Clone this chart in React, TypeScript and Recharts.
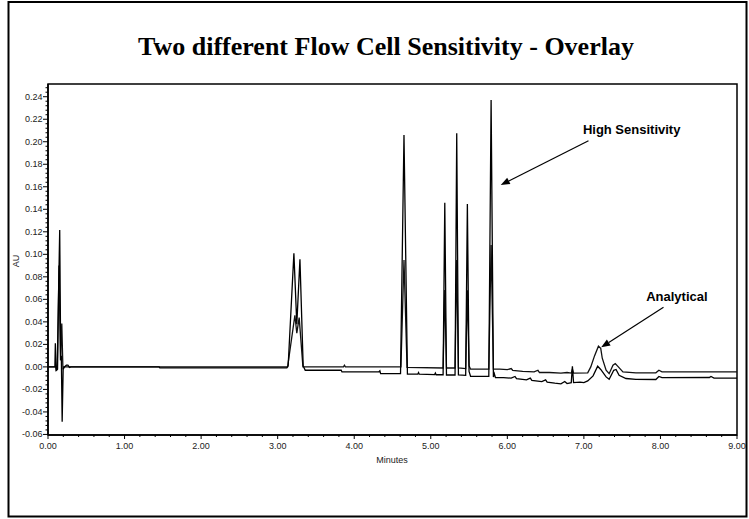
import React from 'react';
import { LineChart, Line, XAxis, YAxis, ReferenceArea, ReferenceLine } from 'recharts';

// [minutes, AU] pairs
const highSensitivity: [number, number][] = [
  [0, 0], [0.09, 0], [0.096, 0.021], [0.105, -0.003], [0.12, -0.002],
  [0.153, 0.1216], [0.166, 0.006], [0.174, 0.01], [0.185, -0.0487], [0.198, -0.002],
  [0.215, 0], [0.24, 0.0015], [0.26, 0.0015], [0.28, -0.0005], [0.3, 0],
  [1.45, 0], [1.46, -0.0008], [3.12, -0.0008], [3.137, 0.001],
  [3.212, 0.1009], [3.25, 0.038], [3.291, 0.0956], [3.333, 0.001],
  [3.36, -0.003], [3.83, -0.003], [3.84, -0.0045], [4.32, -0.0045],
  [4.335, -0.0035], [4.345, -0.006], [4.605, -0.006],
  [4.65, 0.206], [4.695, -0.0065], [4.83, -0.0065], [4.84, -0.005], [4.85, -0.0065],
  [5.05, -0.0068], [5.06, -0.0055], [5.07, -0.007], [5.161, -0.007],
  [5.183, 0.1459], [5.205, -0.0072], [5.317, -0.0072],
  [5.339, 0.2075], [5.361, -0.0072], [5.456, -0.0075],
  [5.478, 0.1447], [5.5, -0.004], [5.52, -0.0085], [5.758, -0.0085],
  [5.788, 0.2371], [5.818, -0.009], [5.83, -0.006], [5.845, -0.0095],
  [5.95, -0.0095], [6.05, -0.01], [6.1, -0.0085], [6.12, -0.0105],
  [6.25, -0.0115], [6.3, -0.01], [6.32, -0.012], [6.45, -0.013],
  [6.5, -0.0115], [6.52, -0.0135], [6.62, -0.0145], [6.7, -0.015],
  [6.75, -0.013], [6.78, -0.0148], [6.835, -0.014], [6.85, 0.0006],
  [6.865, -0.014], [6.95, -0.0135], [7.0, -0.014], [7.05, -0.0125],
  [7.12, -0.008], [7.18, 0.0006], [7.22, -0.0023], [7.29, -0.0089],
  [7.33, -0.011], [7.39, -0.003], [7.42, -0.0023], [7.46, -0.0074],
  [7.55, -0.0103], [7.68, -0.011], [7.94, -0.0112], [7.98, -0.0085],
  [8.02, -0.0095], [8.64, -0.0094], [8.66, -0.0085], [8.7, -0.01], [9.0, -0.01],
];

const analytical: [number, number][] = [
  [0, 0], [0.1, 0], [0.112, -0.003], [0.125, -0.002], [0.143, 0.09],
  [0.163, 0.006], [0.18, 0.0385], [0.195, -0.002], [0.21, 0],
  [3.13, 0], [3.225, 0.0459], [3.25, 0.03], [3.281, 0.0438], [3.33, 0],
  [3.86, 0], [3.872, 0.0015], [3.885, 0], [4.61, 0],
  [4.65, 0.095], [4.69, -0.0005], [5.161, -0.001],
  [5.183, 0.0683], [5.205, -0.001], [5.317, -0.001],
  [5.339, 0.095], [5.361, -0.001], [5.456, -0.0015],
  [5.478, 0.068], [5.5, 0.001], [5.52, -0.002], [5.758, -0.002],
  [5.788, 0.1083], [5.818, -0.002], [5.9, -0.002], [6.0, -0.0025],
  [6.05, -0.0015], [6.07, -0.003], [6.2, -0.004], [6.35, -0.0045],
  [6.4, -0.003], [6.42, -0.005], [6.55, -0.005], [6.7, -0.0055],
  [6.78, -0.005], [6.835, -0.0055], [6.85, -0.002], [6.865, -0.0055],
  [7.05, -0.0053], [7.09, 0], [7.14, 0.01], [7.19, 0.0184], [7.22, 0.0165],
  [7.24, 0.0077], [7.29, -0.003], [7.33, -0.006], [7.38, 0.0015],
  [7.41, 0.003], [7.45, 0], [7.51, -0.0044], [7.68, -0.0053],
  [7.94, -0.0053], [7.98, -0.003], [8.02, -0.0044], [9.0, -0.0044],
];

const xMajorTicks = [0, 1, 2, 3, 4, 5, 6, 7, 8, 9];
const yMajorTicks = [-0.06, -0.04, -0.02, 0, 0.02, 0.04, 0.06, 0.08, 0.1, 0.12, 0.14, 0.16, 0.18, 0.2, 0.22, 0.24];
const xDomain: [number, number] = [0, 9];
const yDomain: [number, number] = [-0.0605, 0.2513];

// arrow start, arrow tip
const hsArrow = [{ x: 7.06, y: 0.2009 }, { x: 5.914, y: 0.1616 }];
const anArrow = [{ x: 8.04, y: 0.0529 }, { x: 7.226, y: 0.0174 }];

const toPoints = (pairs: [number, number][]) => pairs.map(([t, au]) => ({ t, au }));

// 5 subdivisions between labelled ticks
const withMinor = (majors: number[], max: number) => {
  const step = majors[1] - majors[0];
  const out: number[] = [];
  majors.forEach((m) => {
    for (let k = 0; k < 5; k++) {
      const v = Number((m + (k * step) / 5).toFixed(4));
      if (v <= max) out.push(v);
    }
  });
  return out;
};

const isMajor = (v: number, majors: number[]) => majors.some((m) => Math.abs(m - v) < 1e-6);

const FONT = 'Liberation Sans, Arial, sans-serif';

const XTick = (props: any) => {
  const { x, y, payload } = props;
  const major = isMajor(payload.value, xMajorTicks);
  return (
    <g>
      <line x1={x} x2={x} y1={y} y2={y + (major ? 4 : 2)} stroke="#000" strokeWidth={1} />
      {major && (
        <text x={x} y={y + 14} textAnchor="middle" fontSize={9} fill="#222" fontFamily={FONT}>
          {payload.value.toFixed(2)}
        </text>
      )}
    </g>
  );
};

const YTick = (props: any) => {
  const { x, y, payload } = props;
  const major = isMajor(payload.value, yMajorTicks);
  return (
    <g>
      <line x1={x - (major ? 5 : 2.5)} x2={x} y1={y} y2={y} stroke="#000" strokeWidth={1} />
      {major && (
        <text x={x - 5.5} y={y + 3} textAnchor="end" fontSize={9} fill="#222" fontFamily={FONT}>
          {payload.value.toFixed(2)}
        </text>
      )}
    </g>
  );
};

const arrowShape = (label: string, dx: number, dy: number) => (props: any) => {
  const { x1, y1, x2, y2 } = props;
  const ang = Math.atan2(y2 - y1, x2 - x1);
  const len = 9;
  const half = 3.5;
  const bx = x2 - len * Math.cos(ang);
  const by = y2 - len * Math.sin(ang);
  const px = -Math.sin(ang) * half;
  const py = Math.cos(ang) * half;
  return (
    <g>
      <line x1={x1} y1={y1} x2={bx} y2={by} stroke="#000" strokeWidth={1.2} />
      <polygon points={`${x2},${y2} ${bx + px},${by + py} ${bx - px},${by - py}`} fill="#000" />
      <text x={x1 + dx} y={y1 + dy} fontSize={13} fontWeight="bold" fontFamily={FONT} fill="#000">
        {label}
      </text>
    </g>
  );
};

export default function App() {
  const xTicks = withMinor(xMajorTicks, xDomain[1]);
  const yTicks = withMinor(yMajorTicks, yDomain[1]);

  return (
    <div style={{ position: 'absolute', left: 0, top: 0, width: 749, height: 519, background: '#fff' }}>
      <LineChart width={749} height={519} margin={{ top: 84, right: 12, bottom: 54, left: 0 }}>
        <XAxis
          type="number"
          dataKey="t"
          domain={xDomain}
          allowDataOverflow
          ticks={xTicks}
          interval={0}
          tick={(p: any) => <XTick {...p} />}
          tickLine={false}
          tickSize={0}
          tickMargin={0}
          height={30}
          axisLine={{ stroke: '#000', strokeWidth: 1.5 }}
        />
        <YAxis
          type="number"
          domain={yDomain}
          allowDataOverflow
          ticks={yTicks}
          interval={0}
          tick={(p: any) => <YTick {...p} />}
          tickLine={false}
          tickSize={0}
          tickMargin={0}
          width={48}
          axisLine={{ stroke: '#000', strokeWidth: 1.5 }}
        />
        <ReferenceArea x1={xDomain[0]} x2={xDomain[1]} y1={yDomain[0]} y2={yDomain[1]} fill="none" stroke="#000" strokeWidth={1.5} />
        <Line data={toPoints(analytical)} dataKey="au" type="linear" stroke="#111" strokeWidth={1.3} dot={false} isAnimationActive={false} />
        <Line data={toPoints(highSensitivity)} dataKey="au" type="linear" stroke="#000" strokeWidth={1.3} dot={false} isAnimationActive={false} />
        <ReferenceLine segment={hsArrow} shape={arrowShape('High Sensitivity', -5.6, -6.4)} />
        <ReferenceLine segment={anArrow} shape={arrowShape('Analytical', -17.3, -6.6)} />
      </LineChart>
      <svg width={749} height={519} style={{ position: 'absolute', left: 0, top: 0, pointerEvents: 'none' }}>
        <rect x={8.5} y={2} width={738} height={514.5} fill="none" stroke="#000" strokeWidth={2} />
        <text x={386} y={55} textAnchor="middle" fontFamily="Liberation Serif, Times New Roman, serif" fontWeight="bold" fontSize={26}>
          Two different Flow Cell Sensitivity - Overlay
        </text>
        <text transform="translate(19,261) rotate(-90)" textAnchor="middle" fontSize={9} fontFamily={FONT} fill="#222">
          AU
        </text>
        <text x={392} y={463} textAnchor="middle" fontSize={9} fontFamily={FONT} fill="#222">
          Minutes
        </text>
      </svg>
    </div>
  );
}
